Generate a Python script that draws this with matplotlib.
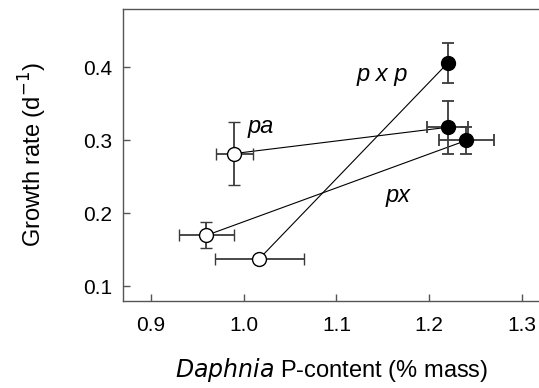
import matplotlib.pyplot as plt

plt.rcParams['font.family'] = ['Liberation Sans', 'DejaVu Sans']

# Low-P (open) and high-P (filled) treatments, per clone
clones = ["pa", "px", "p x p"]
low_p = [0.99, 0.96, 1.017]
low_p_err = [0.02, 0.03, 0.048]
low_g = [0.282, 0.170, 0.138]
low_g_err = [0.043, 0.018, 0.0]
high_p = [1.22, 1.24, 1.22]
high_p_err = [0.022, 0.03, 0.0]
high_g = [0.318, 0.300, 0.406]
high_g_err = [0.036, 0.018, 0.028]

label_x = [1.018, 1.167, 1.149]
label_y = [0.319, 0.225, 0.390]

fig = plt.figure(figsize=(5.39, 3.88), dpi=100)
ax = fig.add_axes([0.228, 0.224, 0.775, 0.753])

err_col = "#3a3a3a"
for i in range(len(clones)):
    # connecting line
    ax.plot([low_p[i], high_p[i]], [low_g[i], high_g[i]],
            color="black", lw=0.8, zorder=2)
    # low-P point
    ax.errorbar(low_p[i], low_g[i],
                xerr=low_p_err[i] or None, yerr=low_g_err[i] or None,
                fmt="o", ms=10, mfc="white", mec="black", mew=1.0,
                ecolor=err_col, elinewidth=1.3, capsize=4, capthick=1.3,
                zorder=3)
    # high-P point
    ax.errorbar(high_p[i], high_g[i],
                xerr=high_p_err[i] or None, yerr=high_g_err[i] or None,
                fmt="o", ms=10, mfc="black", mec="black",
                ecolor=err_col, elinewidth=1.3, capsize=4, capthick=1.3,
                zorder=3)
    ax.text(label_x[i], label_y[i], clones[i], fontsize=17, style="italic",
            ha="center", va="center")

ax.set_xlim(0.87, 1.32)
ax.set_ylim(0.08, 0.48)
ax.set_xticks([0.9, 1.0, 1.1, 1.2, 1.3])
ax.set_yticks([0.1, 0.2, 0.3, 0.4])
ax.set_xticklabels(["0.9", "1.0", "1.1", "1.2", "1.3"])
ax.tick_params(direction="in", length=5, width=1, color="#555555",
               labelsize=15)
ax.tick_params(axis="x", pad=11)
ax.tick_params(axis="y", pad=8)
for s in ax.spines.values():
    s.set_color("#555555")
    s.set_linewidth(1.0)

ax.set_xlabel(r"$\it{Daphnia}$ P-content (% mass)", fontsize=17, labelpad=15)
ax.set_ylabel(r"Growth rate (d$^{-1}$)", fontsize=17, labelpad=24)

plt.savefig("out.png", dpi=100)
plt.close()
